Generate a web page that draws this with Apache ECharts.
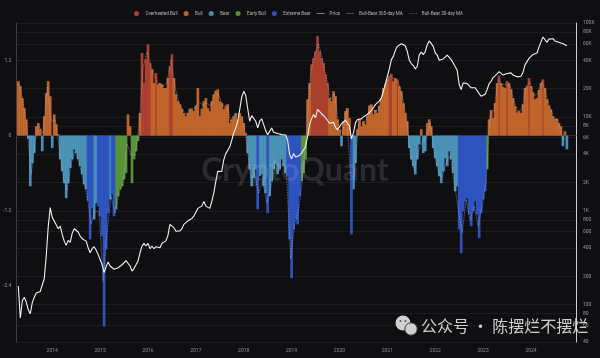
<!DOCTYPE html>
<html><head><meta charset="utf-8">
<script src="https://cdn.jsdelivr.net/npm/echarts@6.0.0/dist/echarts.min.js"></script>
<style>html,body{margin:0;padding:0;background:#0f0f12;}#c{width:600px;height:358px;}</style>
</head><body><div id="c"></div>
<script>
// sampling: half-month steps starting mid-April 2013 (decimal years)
const START_YEAR = 2013.2917;
const STEP = 1 / 24;

const bullBear = [
0.87,0.79,0.60,0.44,0.26,-0.05,-0.81,-0.44,-0.28,0.15,
0.20,0.10,-0.25,0.31,0.68,0.87,0.63,-0.20,0.34,0.18,
0.02,-0.38,-0.57,-0.76,-1.00,-0.76,-0.52,-0.38,-0.22,-0.28,
-0.38,-0.49,-0.62,-0.78,-0.86,-1.05,-1.66,-1.16,-1.34,-1.08,
-1.13,-1.29,-1.61,-3.05,-1.82,-1.24,-1.02,-0.94,-1.29,-1.18,
-0.97,-0.86,-0.81,-0.70,-0.60,0.34,0.15,-0.76,-0.38,-0.25,
-0.09,0.36,1.32,0.84,1.22,1.46,1.16,1.06,0.84,1.00,
0.82,0.84,0.82,0.76,0.76,0.92,1.11,1.30,0.92,0.66,
0.55,0.50,0.43,0.36,0.31,0.36,0.43,0.42,0.39,0.48,
0.76,0.31,0.43,0.55,0.60,0.44,0.39,0.55,0.66,0.72,
0.74,0.55,0.52,0.42,0.47,0.50,0.20,0.26,0.31,0.36,
0.26,0.36,0.31,0.20,0.04,-0.28,-0.54,-0.81,-0.68,-0.54,
-1.18,-0.65,-0.62,-0.81,-0.92,-1.24,-0.97,-0.73,-0.54,-0.46,
-0.62,-0.54,-0.38,-0.49,-0.60,-0.65,-1.66,-2.28,-1.50,-1.34,
-1.42,-0.97,-0.73,-0.60,-0.38,0.58,0.84,1.14,1.24,1.35,
1.59,1.35,1.24,1.16,0.98,0.84,0.60,0.55,0.71,0.63,
0.26,0.10,-0.17,0.23,0.39,0.44,0.28,-1.58,-0.86,-0.44,
0.10,0.26,0.15,0.23,0.18,0.31,0.48,0.50,0.34,0.41,
0.36,0.48,0.60,0.76,0.82,0.90,0.95,0.99,0.87,0.92,
0.90,0.79,0.71,0.52,0.36,0.23,-0.20,-0.38,-0.49,-0.62,
-0.38,-0.14,0.10,-0.28,-0.25,0.20,0.26,0.15,-0.20,-0.36,
-0.49,-0.65,-0.76,-0.57,-0.36,-0.49,-0.25,-0.38,-0.60,-0.89,
-0.81,-1.50,-1.88,-1.21,-1.05,-1.00,-1.26,-1.45,-1.21,-1.05,
-1.26,-1.64,-1.24,-1.02,-0.89,-0.54,0.26,0.41,0.28,0.52,
0.84,0.96,0.84,0.78,0.76,0.87,0.84,0.74,0.60,0.47,
0.37,0.39,0.36,0.50,0.76,0.79,0.92,0.79,0.69,0.58,
0.60,0.73,0.84,0.90,0.76,0.58,0.48,0.42,0.31,0.27,
0.27,0.20,0.15,-0.17,0.07,-0.22
];

// regime of each sample, as runs: O Overheated Bull, U Bull, R Bear, G Early Bull, X Extreme Bear
const regimeRuns = [
['U',5],['R',4],['U',3],['R',1],['U',4],['R',1],['U',3],['R',14],['X',3],['R',2],
['X',6],['R',1],['X',2],['G',6],['U',2],['G',4],['U',1],['O',5],['U',2],['O',1],
['U',6],['O',2],['U',37],['R',5],['X',1],['R',4],['X',1],['R',9],['X',7],['G',3],
['U',2],['O',9],['U',6],['R',1],['U',4],['X',1],['R',2],['U',16],['O',2],['U',2],
['O',1],['U',5],['R',6],['U',1],['R',2],['U',3],['R',13],['X',14],['G',1],['U',5],
['O',1],['U',3],['O',1],['U',10],['O',1],['U',6],['O',1],['U',9],['R',1],['U',1],['R',1]
];

const price = [
158,72,110,120,106,88,80,105,120,133,
130,138,140,190,330,680,1080,850,777,745,
643,687,560,475,428,484,460,574,643,654,
594,537,503,527,475,404,357,394,414,382,
343,303,268,219,253,284,258,246,238,242,
247,258,266,262,294,284,258,228,242,253,
291,357,421,450,421,450,394,421,394,414,
414,404,450,463,478,546,716,698,660,604,
583,611,643,716,745,782,795,828,877,966,
1060,1060,1120,1260,1120,1120,1060,1260,1550,2060,
2640,2620,2620,3510,4060,4140,4800,5640,6750,7620,
8990,12000,16300,18700,16900,12200,8990,10300,10800,8990,
7620,8990,9520,8280,7140,6470,6470,7620,6870,6590,
6650,6470,6470,6470,6420,5640,3980,3570,4060,3740,
3570,3880,4140,4210,4800,6220,8280,9520,10600,9800,
12000,12200,10800,10400,9800,9360,8550,8480,8780,7700,
7330,7820,8480,8170,9200,9600,8050,5830,6750,8630,
9360,9680,9520,10000,10100,10600,11100,11700,12500,13500,
14100,14800,15900,18700,22600,27100,32400,40700,44100,51100,
56400,58700,60200,58700,57100,49700,40100,37000,35200,32400,
34600,46000,49000,46000,49700,58700,64400,65400,56400,47900,
45600,40100,38800,41400,40700,45600,47000,40700,37500,36100,
31400,22100,19500,23000,23500,22600,21600,20400,21200,20400,
20400,17700,16600,17300,17400,19500,22600,23900,26200,27500,
28700,30400,29400,27900,27300,29000,30400,29400,27900,26700,
26700,26200,27100,29900,35800,38800,42000,44100,46300,47000,
47900,55400,63000,70900,68000,62300,67400,66400,68000,64400,
65400,62300,65400,60200,61200,57100
];

// 30-day MA, one value per month (two samples)
const ma30 = [
0.83,0.52,0.10,-0.62,-0.07,0.15,0.03,0.78,0.22,0.26,
-0.18,-0.66,-0.88,-0.45,-0.25,-0.44,-0.70,-0.96,-1.41,-1.21,
-1.21,-2.33,-1.53,-0.98,-1.24,-0.92,-0.76,-0.13,-0.31,-0.32,
0.14,1.08,1.34,1.11,0.92,0.83,0.79,0.84,1.21,0.79,
0.53,0.40,0.34,0.43,0.44,0.54,0.49,0.52,0.47,0.69,
0.65,0.47,0.49,0.23,0.34,0.31,0.26,-0.12,-0.68,-0.61,
-0.92,-0.72,-1.08,-0.85,-0.50,-0.58,-0.44,-0.63,-1.97,-1.42,
-1.20,-0.67,0.10,0.99,1.30,1.47,1.20,0.91,0.58,0.67,
0.18,0.03,0.42,-0.65,-0.65,0.18,0.19,0.25,0.49,0.38,
0.42,0.68,0.86,0.97,0.90,0.85,0.62,0.30,-0.29,-0.56,
-0.26,-0.09,-0.03,0.21,-0.28,-0.57,-0.67,-0.43,-0.32,-0.75,
-1.16,-1.55,-1.03,-1.36,-1.13,-1.45,-1.13,-0.72,0.34,0.40,
0.90,0.81,0.82,0.79,0.54,0.38,0.43,0.78,0.86,0.64,
0.67,0.87,0.67,0.45,0.29,0.24,-0.01,-0.08
];

const yearTicks = [2014,2015,2016,2017,2018,2019,2020,2021,2022,2023,2024];
const leftTicks = [-2.4,-1.2,0,1.2];
const priceTicks = [40,60,80,100,200,400,600,800,1000,2000,4000,6000,8000,10000,20000,40000,60000,80000,100000];

const regimes = {
  O: {name: 'Overheated Bull', color: '#b5432f'},
  U: {name: 'Bull', color: '#c8692c'},
  R: {name: 'Bear', color: '#4d98bd'},
  G: {name: 'Early Bull', color: '#5c9a3a'},
  X: {name: 'Extreme Bear', color: '#2f57c8'}
};

const regimeSeq = [];
regimeRuns.forEach(([k, n]) => { for (let j = 0; j < n; j++) regimeSeq.push(k); });
const dates = bullBear.map((_, i) => START_YEAR + i * STEP);
if (regimeSeq.length !== bullBear.length || price.length !== bullBear.length) console.error('length mismatch', regimeSeq.length, bullBear.length, price.length);

const barSeries = Object.keys(regimes).map(k => ({
  name: regimes[k].name,
  type: 'bar',
  xAxisIndex: 0, yAxisIndex: 0,
  barWidth: 2.7, barGap: '-100%',
  itemStyle: {color: regimes[k].color, opacity: 0.93},
  emphasis: {disabled: true},
  data: dates.map((t, i) => regimeSeq[i] === k ? [t, bullBear[i]] : null).filter(d => d)
}));

const fmtPrice = v => { const p = Math.round(Math.pow(10, v)); return p >= 1000 ? (p / 1000) + 'K' : String(p); };

// legend line icons (anchored 24x10 box so the stroke stays thin)
const ANCHOR = 'M0,0L0.01,0L0.01,0.01Z M23.99,9.99L24,9.99L24,10Z ';
const solidIcon = 'path://' + ANCHOR + 'M0,4.4h24v1.4h-24Z';
const thinIcon = 'path://' + ANCHOR + 'M0,4.6h24v0.9h-24Z';
const dottedIcon = 'path://' + ANCHOR + 'M0,4.5h2.2v1.2h-2.2Z M5.5,4.5h2.2v1.2h-2.2Z M11,4.5h2.2v1.2h-2.2Z M16.5,4.5h2.2v1.2h-2.2Z M21.8,4.5h2.2v1.2h-2.2Z';

const chart = echarts.init(document.getElementById('c'), null, {renderer: 'canvas'});
chart.setOption({
  backgroundColor: '#0f0f12',
  animation: false,
  textStyle: {fontFamily: 'Roboto'},
  legend: {
    top: 6, left: 129, itemWidth: 8, itemHeight: 5, itemGap: 6,
    textStyle: {color: '#b5b5b8', fontSize: 4.6},
    data: [
      {name: 'Overheated Bull', icon: 'circle'},
      {name: 'Bull', icon: 'circle'},
      {name: 'Bear', icon: 'circle'},
      {name: 'Early Bull', icon: 'circle'},
      {name: 'Extreme Bear', icon: 'circle'},
      {name: 'Price', icon: solidIcon},
      {name: 'Bull-Bear 365-day MA', icon: thinIcon},
      {name: 'Bull-Bear 30-day MA', icon: dottedIcon}
    ]
  },
  grid: {left: 15, right: 24, top: 23, bottom: 16},
  xAxis: {
    type: 'value', min: 2013.25, max: 2024.94, interval: 0.25,
    axisLine: {show: true, lineStyle: {color: '#2a2a2f'}},
    axisTick: {show: false},
    splitLine: {show: false},
    axisLabel: {
      color: '#8f8f94', fontSize: 5, margin: 6,
      formatter: v => (yearTicks.some(y => Math.abs(y - v) < 1e-6) ? String(Math.round(v)) : '')
    }
  },
  yAxis: [
    {
      type: 'value', position: 'left', min: -3.3, max: 1.8, interval: 0.3,
      axisLine: {show: true, lineStyle: {color: '#3c3c42'}},
      axisTick: {show: false}, splitLine: {show: false},
      axisLabel: {
        color: '#9a9a9f', fontSize: 5, margin: 5,
        formatter: v => {
          const r = Math.round(v * 10) / 10;
          if (!leftTicks.some(t => Math.abs(t - r) < 1e-6)) return '';
          return r === 0 ? '0' : r.toFixed(1);
        }
      }
    },
    {
      type: 'log', logBase: 10, position: 'right', min: 40, max: 100000,
      axisLine: {show: true, lineStyle: {color: '#cfcfd2', width: 1}},
      axisTick: {show: false}, splitLine: {show: false}, axisLabel: {show: false}
    },
    {
      type: 'value', position: 'right', min: Math.log10(40), max: 5,
      axisLine: {show: false},
      axisTick: {show: false, customValues: priceTicks.map(Math.log10)},
      splitLine: {show: true, lineStyle: {color: '#1f1f24', width: 0.8}},
      axisLabel: {color: '#9a9a9f', fontSize: 5, margin: 7, customValues: priceTicks.map(Math.log10), formatter: fmtPrice}
    }
  ],
  series: barSeries.concat([
    {
      name: 'Price', type: 'line', xAxisIndex: 0, yAxisIndex: 1, symbol: 'none', z: 6,
      lineStyle: {color: '#f2f2f2', width: 1.1}, itemStyle: {color: '#f2f2f2'},
      emphasis: {disabled: true},
      data: dates.map((t, i) => [t, price[i]])
    },
    {
      name: 'Bull-Bear 365-day MA', type: 'line', xAxisIndex: 0, yAxisIndex: 0, symbol: 'none',
      lineStyle: {color: '#8d8d93', width: 0.8}, itemStyle: {color: '#8d8d93'},
      data: []
    },
    {
      name: 'Bull-Bear 30-day MA', type: 'line', xAxisIndex: 0, yAxisIndex: 0, symbol: 'none', z: 5,
      lineStyle: {color: '#c4bfe6', width: 0.8, type: 'dotted', opacity: 0.7}, itemStyle: {color: '#b9b4d8'},
      emphasis: {disabled: true},
      data: ma30.map((v, k) => [START_YEAR + (2 * k + 0.5) * STEP, v])
    }
  ]),
  graphic: [
    {type: 'text', x: 295, y: 171, z: 100, silent: true,
     style: {text: 'CryptoQuant', fill: 'rgba(210,210,216,0.15)', fontSize: 32, fontWeight: 'bold', fontFamily: 'Lato', align: 'center', verticalAlign: 'middle'}},
    {type: 'circle', z: 100, shape: {cx: 403, cy: 323, r: 7.5}, style: {fill: '#d0d0d0'}},
    {type: 'circle', z: 101, shape: {cx: 411, cy: 329, r: 6.2}, style: {fill: '#d0d0d0', stroke: '#3a3a3a', lineWidth: 1}},
    {type: 'circle', z: 102, shape: {cx: 400.5, cy: 321, r: 1}, style: {fill: '#555'}},
    {type: 'circle', z: 102, shape: {cx: 405.5, cy: 321, r: 1}, style: {fill: '#555'}},
    {type: 'text', x: 421, y: 326, z: 100, silent: true,
     style: {text: '公众号 · 陈摆烂不摆烂', fill: 'rgba(232,232,232,0.88)', fontSize: 16, fontFamily: 'Noto Sans CJK SC', align: 'left', verticalAlign: 'middle'}}
  ]
});
</script></body></html>
